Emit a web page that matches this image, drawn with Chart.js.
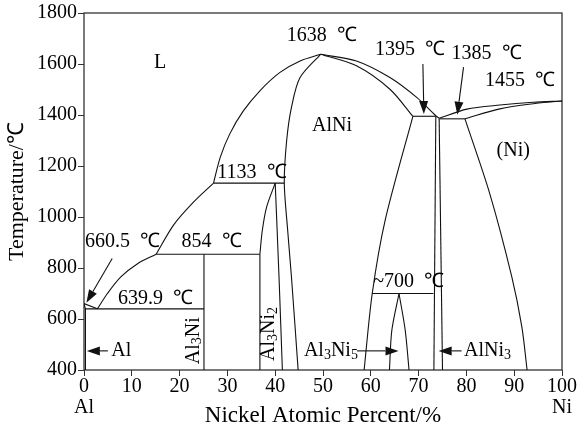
<!DOCTYPE html>
<html>
<head>
<meta charset="utf-8">
<script src="https://cdn.jsdelivr.net/npm/chart.js@4"></script>
<style>
  html, body { margin: 0; padding: 0; background: #fff; }
  #wrap { width: 580px; height: 432px; }
</style>
</head>
<body>
<div id="wrap"><canvas id="chart" width="580" height="432"></canvas></div>
<script>
// Al-Ni phase boundaries, points are [Ni at.%, temperature in ℃]
const liqAl = [[0, 660.5], [2.8, 639.9]];
const solAl = [[0, 660.5], [0.3, 639.9], [0.3, 400]];
const eut640 = [[0.3, 639.9], [25.1, 639.9]];
const liqLow = [[2.8, 639.9], [4.9, 700], [7.7, 765], [11.2, 817], [15.1, 854]];
const peri854 = [[15.1, 854], [36.8, 854]];
const al3ni = [[25.1, 854], [25.1, 400]];
const liqMid = [[15.1, 854], [18.8, 970], [23.0, 1060], [27.1, 1133]];
const peri1133 = [[27.1, 1133], [41.9, 1133]];
const liqUp = [[27.1, 1133], [28.5, 1234], [30.5, 1326], [33.3, 1415], [36.8, 1495], [41.0, 1567], [45.2, 1612], [49.5, 1638]];
const al3ni2Top = [[40, 1133], [38.2, 1039], [37.3, 947], [36.8, 854]];
const al3ni2Left = [[36.8, 854], [36.8, 400]];
const al3ni2Right = [[40, 1133], [40.8, 765], [41.5, 400]];
const alniLeft = [[49.5, 1638], [45.2, 1547], [43.4, 1430], [42.4, 1300], [41.9, 1133], [42.6, 950], [43.4, 765], [44.8, 400]];
const liqRight = [[49.5, 1638], [57, 1612], [64, 1547], [69.6, 1469], [73.6, 1397], [74.3, 1387]];
const alniSol = [[49.5, 1638], [57, 1593], [64, 1501], [68.8, 1395]];
const peri1395 = [[68.8, 1395], [73.6, 1395]];
const alniRight = [[68.8, 1395], [63, 987], [60.3, 700], [58.6, 400]];
const line700 = [[60.3, 700], [73.1, 700]];
const al3ni5Left = [[63.9, 400], [64.4, 556], [65.9, 700]];
const al3ni5Right = [[65.9, 700], [67.2, 556], [68.0, 400]];
const alni3Left = [[73.6, 1395], [73.2, 400]];
const alni3Right = [[74.3, 1385], [75.0, 400]];
const eut1385 = [[74.3, 1385], [79.7, 1385]];
const liqNi = [[74.3, 1387], [80.1, 1423], [87, 1439], [94, 1450], [100, 1455]];
const solNi = [[79.7, 1385], [87, 1424], [94, 1444], [100, 1455]];
const solvusNi = [[79.7, 1385], [84.9, 1091], [89.5, 765], [91.6, 569], [92.7, 400]];

const xTicks = [0, 10, 20, 30, 40, 50, 60, 70, 80, 90, 100];
const yTicks = [400, 600, 800, 1000, 1200, 1400, 1600, 1800];

const curves = [
  [liqAl, false], [solAl, false], [eut640, false], [liqLow, true], [peri854, false],
  [al3ni, false], [liqMid, true], [peri1133, false], [liqUp, true], [al3ni2Top, true],
  [al3ni2Left, false], [al3ni2Right, true], [alniLeft, true], [liqRight, true],
  [alniSol, true], [peri1395, false], [alniRight, true], [line700, false],
  [al3ni5Left, true], [al3ni5Right, true], [alni3Left, false], [alni3Right, false],
  [eut1385, false], [liqNi, true], [solNi, true], [solvusNi, true]
];

// text notes: [text, x, T, align, subscript digits, rotated]
const notes = [
  ['L', 15.9, 1606, 'center', false, false],
  ['1638  ℃', 42.4, 1710, 'left', false, false],
  ['1395  ℃', 60.9, 1655, 'left', false, false],
  ['1385  ℃', 76.9, 1640, 'left', false, false],
  ['1455  ℃', 83.9, 1534, 'left', false, false],
  ['AlNi', 51.9, 1358, 'center', false, false],
  ['(Ni)', 89.8, 1260, 'center', false, false],
  ['1133  ℃', 27.9, 1174, 'left', false, false],
  ['660.5  ℃', 0.2, 902, 'left', false, false],
  ['854  ℃', 20.4, 902, 'left', false, false],
  ['639.9  ℃', 7.1, 680, 'left', false, false],
  ['~700  ℃', 60.5, 748, 'left', false, false],
  ['Al', 5.7, 474, 'left', false, false],
  ['Al3Ni', 22.9, 515, 'center', true, true],
  ['Al3Ni2', 38.7, 541, 'center', true, true],
  ['Al3Ni5', 46.0, 475, 'left', true, false],
  ['AlNi3', 79.5, 475, 'left', true, false]
];

const arrows = [
  [[5.9, 837], [0.5, 664]],
  [[70.9, 1600], [71.1, 1404]],
  [[79.4, 1588], [78.1, 1401]],
  [[5.0, 475], [0.6, 475]],
  [[57.1, 475], [65.8, 475]],
  [[79.0, 475], [74.2, 475]]
];

const FONT = '"Liberation Serif", "Times New Roman", serif';
const INK = '#111';

function drawText(ctx, str, x, y, size, align, sub) {
  const parts = sub ? str.split(/(\d)/).filter(s => s) : [str];
  const big = size + 'px ' + FONT;
  const small = Math.round(size * 0.68) + 'px ' + FONT;
  let w = 0;
  parts.forEach(p => {
    ctx.font = sub && /\d/.test(p) ? small : big;
    w += ctx.measureText(p).width;
  });
  let cx = align === 'center' ? x - w / 2 : x;
  ctx.textAlign = 'left';
  ctx.textBaseline = 'middle';
  parts.forEach(p => {
    const isSub = sub && /\d/.test(p);
    ctx.font = isSub ? small : big;
    ctx.fillText(p, cx, y + (isSub ? size * 0.2 : 0));
    cx += ctx.measureText(p).width;
  });
}

const decor = {
  id: 'decor',
  beforeDatasetsDraw(chart) {
    const { ctx, chartArea: a } = chart;
    ctx.save();
    ctx.strokeStyle = '#333';
    ctx.lineWidth = 1.3;
    ctx.strokeRect(a.left, a.top, a.right - a.left, a.bottom - a.top);
    ctx.restore();
  },
  afterDatasetsDraw(chart) {
    const { ctx, scales: { x, y } } = chart;
    ctx.save();
    ctx.fillStyle = '#000';
    notes.forEach(n => {
      const px = x.getPixelForValue(n[1]);
      const py = y.getPixelForValue(n[2]);
      if (n[5]) {
        ctx.save();
        ctx.translate(px, py);
        ctx.rotate(-Math.PI / 2);
        drawText(ctx, n[0], 0, 0, 20, 'center', n[4]);
        ctx.restore();
      } else {
        drawText(ctx, n[0], px, py, 20, n[3], n[4]);
      }
    });
    ctx.strokeStyle = INK;
    ctx.fillStyle = INK;
    ctx.lineWidth = 1.1;
    arrows.forEach(([s, e]) => {
      const x0 = x.getPixelForValue(s[0]), y0 = y.getPixelForValue(s[1]);
      const x1 = x.getPixelForValue(e[0]), y1 = y.getPixelForValue(e[1]);
      const ang = Math.atan2(y1 - y0, x1 - x0);
      const len = 13, hw = 4.5;
      const bx = x1 - len * Math.cos(ang), by = y1 - len * Math.sin(ang);
      ctx.beginPath();
      ctx.moveTo(x0, y0);
      ctx.lineTo(bx, by);
      ctx.stroke();
      ctx.beginPath();
      ctx.moveTo(x1, y1);
      ctx.lineTo(bx + hw * Math.sin(ang), by - hw * Math.cos(ang));
      ctx.lineTo(bx - hw * Math.sin(ang), by + hw * Math.cos(ang));
      ctx.closePath();
      ctx.fill();
    });
    ctx.restore();
  }
};

const datasets = curves.map(([pts, curved]) => ({
  data: pts.map(p => ({ x: p[0], y: p[1] })),
  showLine: true,
  borderColor: INK,
  borderWidth: 1.1,
  pointRadius: 0,
  tension: curved ? 0.3 : 0,
  fill: false
}));

new Chart(document.getElementById('chart'), {
  type: 'scatter',
  data: { datasets: datasets },
  options: {
    responsive: false,
    animation: false,
    layout: { padding: { top: 12, right: 18, left: 0, bottom: 0 } },
    plugins: { legend: { display: false }, tooltip: { enabled: false } },
    scales: {
      x: {
        type: 'linear',
        min: 0,
        max: 100,
        afterBuildTicks: axis => { axis.ticks = xTicks.map(v => ({ value: v })); },
        afterFit: axis => { axis.height = 62; },
        border: { display: false },
        grid: { drawOnChartArea: false, drawTicks: true, tickLength: 6, color: '#333' },
        ticks: {
          padding: 0,
          color: '#000',
          maxRotation: 0,
          font: { family: FONT, size: 20, lineHeight: 1.05 },
          callback: v => v === 0 ? ['0', 'Al'] : v === 100 ? ['100', 'Ni'] : String(v)
        },
        title: {
          display: true,
          text: 'Nickel Atomic Percent/%',
          color: '#000',
          font: { family: FONT, size: 23 },
          padding: { top: 0, bottom: 2 }
        }
      },
      y: {
        min: 400,
        max: 1800,
        afterBuildTicks: axis => { axis.ticks = yTicks.map(v => ({ value: v })); },
        afterFit: axis => { axis.width = 84; },
        border: { display: false },
        grid: { drawOnChartArea: false, drawTicks: true, tickLength: 6, color: '#333' },
        ticks: {
          padding: 1,
          color: '#000',
          font: { family: FONT, size: 20 },
          callback: v => String(v)
        },
        title: {
          display: true,
          text: 'Temperature/℃',
          color: '#000',
          font: { family: FONT, size: 22 },
          padding: { top: 4, bottom: 0 }
        }
      }
    }
  },
  plugins: [decor]
});
</script>
</body>
</html>
